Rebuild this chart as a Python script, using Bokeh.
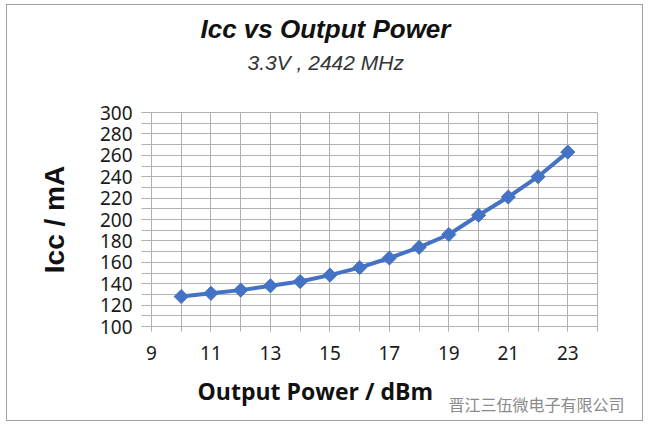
import math
from bokeh.plotting import figure
from bokeh.models import FixedTicker, Range1d, Title
from bokeh.embed import file_html
from bokeh.resources import INLINE

power_dbm = [10, 11, 12, 13, 14, 15, 16, 17, 18, 19, 20, 21, 22, 23]
icc_ma = [128, 131, 134, 138, 142, 148, 155, 164, 174, 186, 204, 221, 240, 263]

x_major = [9, 11, 13, 15, 17, 19, 21, 23]
x_minor = list(range(9, 25))
y_major = list(range(100, 301, 20))
y_minor = list(range(100, 301, 10))

title_text = "Icc vs Output Power"
subtitle_text = "3.3V , 2442 MHz"
xlabel_text = "Output Power / dBm"
ylabel_text = "Icc / mA"
watermark_text = "晋江三伍微电子有限公司"

W, H = 635, 415
p = figure(width=W, height=H, output_backend="svg", toolbar_location=None,
           x_range=Range1d(9, 24), y_range=Range1d(100, 300),
           min_border_left=144, min_border_right=45,
           min_border_top=107, min_border_bottom=94)
p.styles = {"margin-left": "7px", "margin-top": "5px",
            "outline": "1px solid #a0a0a0"}

grid_col = "#b0b0b0"
p.outline_line_color = grid_col
p.xaxis.ticker = FixedTicker(ticks=x_major, minor_ticks=x_minor)
p.yaxis.ticker = FixedTicker(ticks=y_major, minor_ticks=y_minor)
for g in (p.xgrid, p.ygrid):
    g.grid_line_color = grid_col
    g.minor_grid_line_color = grid_col
    g.grid_line_width = 1
    g.minor_grid_line_width = 1

for ax in (p.xaxis, p.yaxis):
    ax.axis_line_color = grid_col
    ax.major_tick_line_color = grid_col
    ax.minor_tick_line_color = grid_col
    ax.major_label_text_font = "Noto Sans"
    ax.major_label_text_font_size = "19px"
    ax.major_label_text_color = "#1a1a1a"
    ax.major_tick_in = 0
    ax.minor_tick_in = 0

p.yaxis.major_tick_out = 10
p.yaxis.minor_tick_out = 10
p.yaxis.major_label_standoff = 9
p.yaxis.axis_label = ylabel_text
p.yaxis.axis_label_text_font = "Liberation Sans"
p.yaxis.axis_label_text_font_size = "28px"
p.yaxis.axis_label_text_font_style = "bold"
p.yaxis.axis_label_text_color = "#111111"
p.yaxis.axis_label_standoff = 27

p.xaxis.major_tick_out = 5
p.xaxis.minor_tick_out = 5
p.xaxis.major_label_standoff = 14

p.line(power_dbm, icc_ma, line_color="#4472C4", line_width=4)
p.scatter(power_dbm, icc_ma, marker="square", size=10, angle=math.pi / 4,
          fill_color="#4472C4", line_color="#4472C4", line_width=1)

# spacer between frame and subtitle
p.add_layout(Title(text=" ", text_font_size="1px", standoff=34), "above")
p.add_layout(Title(text=subtitle_text, align="left", offset=96,
                   text_font="Liberation Sans", text_font_size="21px",
                   text_font_style="italic", text_color="#333333",
                   standoff=4), "above")
p.add_layout(Title(text=title_text, align="left", offset=49,
                   text_font="Liberation Sans", text_font_size="26px",
                   text_font_style="bold italic", text_color="#111111",
                   standoff=6), "above")
p.add_layout(Title(text=xlabel_text, align="left", offset=46,
                   text_font="Open Sans", text_font_size="23px",
                   text_font_style="bold", text_color="#111111",
                   standoff=20), "below")
p.add_layout(Title(text=watermark_text, align="right", offset=-27,
                   vertical_align="top",
                   text_font="Noto Sans CJK SC", text_font_size="16px",
                   text_font_style="normal", text_color="#8a8a8a",
                   standoff=-50), "below")

open("out.html", "w").write(file_html(p, INLINE))
